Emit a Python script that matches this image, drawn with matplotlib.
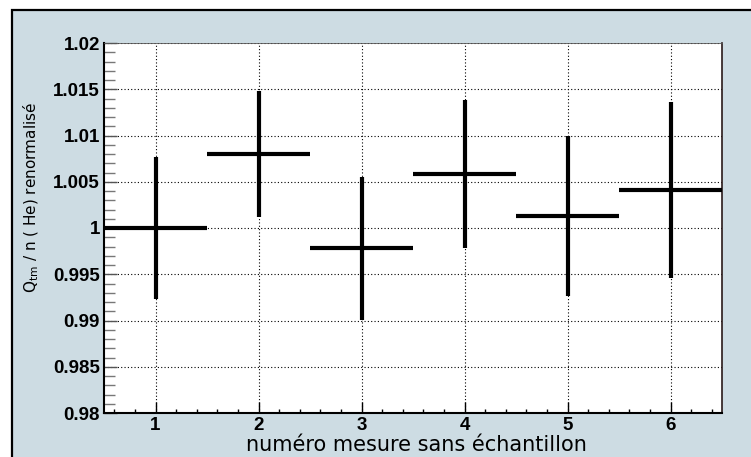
import matplotlib
matplotlib.use('Agg')
import matplotlib.pyplot as plt
from matplotlib.patches import Rectangle
from matplotlib.ticker import MultipleLocator, FormatStrFormatter

# mesures renormalisees, une par bin
mesures = [1, 2, 3, 4, 5, 6]
valeurs = [1.0000, 1.0080, 0.9978, 1.0058, 1.0013, 1.0041]
erreurs = [0.0077, 0.0068, 0.0077, 0.0080, 0.0086, 0.0095]
demi_largeur = 0.5

y_ticks = [0.98, 0.985, 0.99, 0.995, 1.0, 1.005, 1.01, 1.015, 1.02]
y_labels = ['0.98', '0.985', '0.99', '0.995', '1', '1.005', '1.01', '1.015', '1.02']

W, H = 751, 457
fond = '#cddce3'

fig = plt.figure(figsize=(W / 100, H / 100), dpi=100)
fig.patch.set_facecolor('white')

# cadre du canvas (bord gauche/haut visibles)
cadre = Rectangle((12 / W, -0.2), 1.2, (H - 10) / H + 0.2, transform=fig.transFigure,
                  facecolor=fond, edgecolor='black', lw=1.6, zorder=-5)
fig.patches.append(cadre)

ax = fig.add_axes([104 / W, (H - 413) / H, (722 - 104) / W, (413 - 43) / H])
ax.set_zorder(2)
ax.set_facecolor('white')

ax.errorbar(mesures, valeurs, xerr=demi_largeur, yerr=erreurs, fmt='none',
            ecolor='black', elinewidth=3.0, capsize=0, zorder=3)

ax.set_xlim(0.5, 6.5)
ax.set_ylim(0.98, 1.02)
ax.xaxis.set_major_locator(MultipleLocator(1))
ax.xaxis.set_minor_locator(MultipleLocator(0.2))
ax.set_yticks(y_ticks)
ax.set_yticklabels(y_labels)
ax.yaxis.set_minor_locator(MultipleLocator(0.001))
ax.xaxis.set_major_formatter(FormatStrFormatter('%d'))

ax.grid(True, which='major', linestyle=(0, (1, 2)), color='black', lw=0.8)
ax.tick_params(axis='both', which='both', direction='in', top=False, right=False)
ax.tick_params(axis='y', which='major', length=9, width=1, color='#555555', pad=3)
ax.tick_params(axis='y', which='minor', length=8, width=1, color='#777777')
ax.tick_params(axis='x', which='major', length=8, width=1, color='black', pad=3)
ax.tick_params(axis='x', which='minor', length=3, width=1, color='black')

for lab in ax.get_xticklabels() + ax.get_yticklabels():
    lab.set_fontfamily('Liberation Sans')
    lab.set_fontweight('bold')
    lab.set_fontsize(13.5)

for s in ['left', 'bottom']:
    ax.spines[s].set_linewidth(1.5)
    ax.spines[s].set_color('black')
ax.spines['right'].set_linewidth(1.2)
ax.spines['right'].set_color('#2a1a1a')
ax.spines['top'].set_linewidth(0.6)
ax.spines['top'].set_color('#555555')

fig.text(416 / W, 1 - 445 / H, 'numéro mesure sans échantillon', ha='center', va='center',
         fontsize=15, family=['DejaVu Sans'], zorder=3)
fig.text(31 / W, 1 - 197 / H, 'Q$_{\\mathrm{tm}}$ / n ( He) renormalisé', ha='center',
         va='center', rotation=90, fontsize=11, family=['DejaVu Sans'], zorder=3)

fig.savefig('out.png', dpi=100, facecolor=fig.get_facecolor())
